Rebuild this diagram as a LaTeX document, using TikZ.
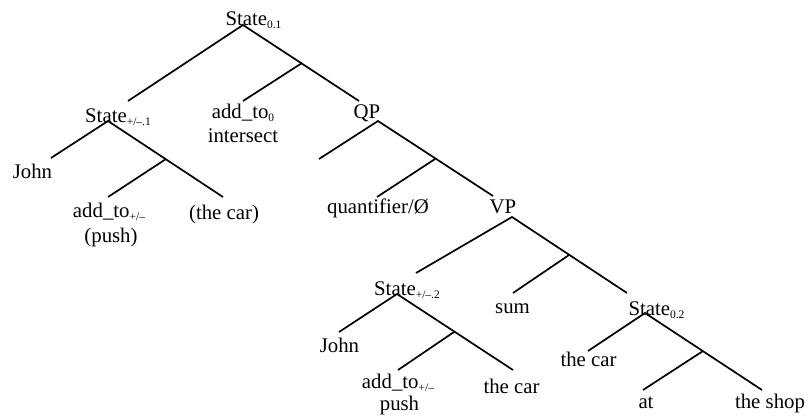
\documentclass[tikz,border=0pt]{standalone}
\usepackage{fontspec}
\setmainfont{Liberation Serif}
\newcommand\mysub[1]{\raisebox{-3.5pt}{\fontsize{11.5}{12}\selectfont #1}}
\begin{document}
\begin{tikzpicture}[x=1pt,y=-1pt,
  lbl/.style={anchor=base,inner sep=0pt,font=\fontsize{20.8}{24}\selectfont},
  br/.style={line width=1.7pt}]
\useasboundingbox (0,0) rectangle (808,416);
% text nodes
\node[lbl] (root) at (253.5,25) {State\mysub{0.1}};
\node[lbl] (s1) at (118,122) {State\mysub{+/–.1}};
\node[lbl] (add0) at (243,118) {add\_to\mysub{0}};
\node[lbl] (inter) at (243,142) {intersect};
\node[lbl] (qp) at (367,118) {QP};
\node[lbl] (john1) at (32.5,178) {John};
\node[lbl] (addpm1) at (109,217) {add\_to\mysub{+/–}};
\node[lbl] (push1) at (111,242) {(push)};
\node[lbl] (car1) at (224,219) {(the car)};
\node[lbl] (quant) at (378,213) {quantifier/Ø};
\node[lbl] (vp) at (503,213) {VP};
\node[lbl] (s2) at (407,295) {State\mysub{+/–.2}};
\node[lbl] (sum) at (512.5,313) {sum};
\node[lbl] (s3) at (656.5,315) {State\mysub{0.2}};
\node[lbl] (john2) at (339.5,352) {John};
\node[lbl] (addpm2) at (398,388) {add\_to\mysub{+/–}};
\node[lbl] (push2) at (399.5,410) {push};
\node[lbl] (car2) at (511.5,393) {the car};
\node[lbl] (car3) at (588.5,366) {the car};
\node[lbl] (at) at (646,408) {at};
\node[lbl] (shop) at (770,408) {the shop};
% branch coordinates
\coordinate (rootA) at (243,25);
\coordinate (s1T) at (128,101);
\coordinate (qpT) at (359,101);
\coordinate (m1) at (302,63);
\coordinate (add0T) at (243,101);
\coordinate (s1A) at (108,121);
\coordinate (john1T) at (51,158);
\coordinate (car1T) at (223,197);
\coordinate (m2) at (166,159);
\coordinate (addpm1T) at (108,197);
\coordinate (qpA) at (378,121);
\coordinate (qpL) at (319,159);
\coordinate (vpT) at (493,196);
\coordinate (m3) at (435,159);
\coordinate (quantT) at (377,197);
\coordinate (vpA) at (512,217);
\coordinate (s2T) at (416,273);
\coordinate (s3T) at (627,293);
\coordinate (m4) at (569,255);
\coordinate (sumT) at (513,293);
\coordinate (s2A) at (397,294);
\coordinate (john2T) at (339,332);
\coordinate (car2T) at (513,370);
\coordinate (m5) at (454,332);
\coordinate (addpm2T) at (398,370);
\coordinate (s3A) at (645,313);
\coordinate (car3T) at (588,351);
\coordinate (shopT) at (762,390);
\coordinate (m6) at (703,351);
\coordinate (atT) at (643,390);
% branches
\draw[br] (s1T) -- (rootA) -- (qpT);
\draw[br] (m1) -- (add0T);
\draw[br] (john1T) -- (s1A) -- (car1T);
\draw[br] (m2) -- (addpm1T);
\draw[br] (qpL) -- (qpA) -- (vpT);
\draw[br] (m3) -- (quantT);
\draw[br] (s2T) -- (vpA) -- (s3T);
\draw[br] (m4) -- (sumT);
\draw[br] (john2T) -- (s2A) -- (car2T);
\draw[br] (m5) -- (addpm2T);
\draw[br] (car3T) -- (s3A) -- (shopT);
\draw[br] (m6) -- (atT);
\end{tikzpicture}
\end{document}
